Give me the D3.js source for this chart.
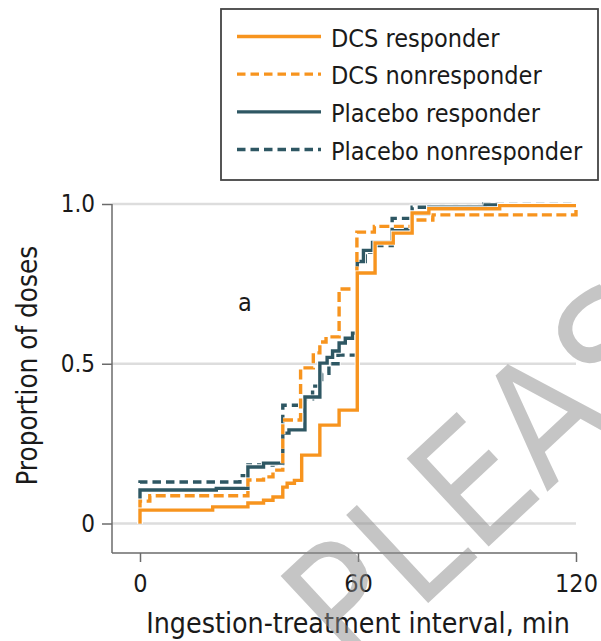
<!DOCTYPE html>
<html>
<head>
<meta charset="utf-8">
<script src="https://cdn.jsdelivr.net/npm/d3@7"></script>
<style>
  html, body { margin: 0; padding: 0; background: #fff; }
  svg { display: block; }
  text { font-family: "DejaVu Sans Condensed", "DejaVu Sans", sans-serif; font-stretch: condensed; fill: #1a1a1a; }
</style>
</head>
<body>
<svg id="chart" width="601" height="641"></svg>
<script>
// Cumulative proportion of doses by ingestion-treatment interval (min)
const seriesNames = ["DCS responder", "DCS nonresponder", "Placebo responder", "Placebo nonresponder"];

const dcsResponderT = [0, 20, 29.7, 34, 36.6, 39.3, 40.5, 42.5, 44.5, 49.5, 54.8, 59.8, 64.7, 69.7, 74.9, 79.5, 99, 120];
const dcsResponderP = [0.042, 0.052, 0.064, 0.073, 0.083, 0.114, 0.126, 0.135, 0.214, 0.308, 0.355, 0.784, 0.878, 0.909, 0.972, 0.985, 0.995, 0.995];

const dcsNonresponderT = [0, 2.7, 29.7, 34, 36.6, 39.3, 44.2, 47.7, 49.5, 51.2, 54.8, 59.7, 64.5, 74.9, 80.6, 120];
const dcsNonresponderP = [0.07, 0.087, 0.136, 0.146, 0.167, 0.324, 0.487, 0.534, 0.568, 0.584, 0.734, 0.912, 0.93, 0.95, 0.966, 0.99];

const placeboResponderT = [0, 21, 29.7, 34, 39.3, 41, 45.4, 49.5, 51.5, 53, 54.8, 56.5, 58.5, 59.8, 61.5, 64, 69.4, 74.9, 79.5, 95, 120];
const placeboResponderP = [0.105, 0.11, 0.177, 0.189, 0.283, 0.293, 0.396, 0.502, 0.52, 0.54, 0.565, 0.58, 0.596, 0.82, 0.855, 0.88, 0.92, 0.97, 0.99, 0.997, 0.997];

const placeboNonresponderT = [0, 27.5, 29.7, 36.6, 39.3, 45.4, 47.5, 50, 52, 54.5, 59.8, 62, 64, 69.4, 74.9, 93, 120];
const placeboNonresponderP = [0.13, 0.15, 0.183, 0.187, 0.37, 0.39, 0.43, 0.47, 0.5, 0.527, 0.82, 0.85, 0.87, 0.955, 0.99, 1.0, 1.0];

const xTicks = [0, 60, 120];
const xTickLabels = ["0", "60", "120"];
const yTicks = [0, 0.5, 1];
const yTickLabels = ["0", "0.5", "1.0"];

const orange = "#f7941e";
const teal = "#2e5763";

const svg = d3.select("#chart");

const x = d3.scaleLinear().domain([0, 120]).range([140, 576]);
const y = d3.scaleLinear().domain([0, 1]).range([523.5, 204]);

const axisLeftX = 112;
const axisBottomY = 553;

// Horizontal gridlines
svg.append("g").selectAll("line")
  .data(yTicks)
  .join("line")
  .attr("x1", axisLeftX).attr("x2", x(120))
  .attr("y1", d => y(d)).attr("y2", d => y(d))
  .attr("stroke", "#dddddd").attr("stroke-width", 2.6);

// Y axis
const yAxis = d3.axisLeft(y)
  .tickValues(yTicks)
  .tickFormat((d, i) => yTickLabels[i])
  .tickSize(10)
  .tickPadding(7);
const gy = svg.append("g").attr("transform", `translate(${axisLeftX},0)`).call(yAxis);
gy.select(".domain").remove();
gy.selectAll(".tick line").attr("stroke", "#6b6b6b").attr("stroke-width", 1.5);
gy.selectAll(".tick text").attr("font-size", 24).style("fill", "#1a1a1a")
  .attr("font-family", null);
svg.append("line")
  .attr("x1", axisLeftX).attr("x2", axisLeftX)
  .attr("y1", y(1)).attr("y2", axisBottomY)
  .attr("stroke", "#6b6b6b").attr("stroke-width", 1.5);

// X axis
const xAxis = d3.axisBottom(x)
  .tickValues(xTicks)
  .tickFormat((d, i) => xTickLabels[i])
  .tickSize(9)
  .tickPadding(12);
const gx = svg.append("g").attr("transform", `translate(0,${axisBottomY})`).call(xAxis);
gx.select(".domain").remove();
gx.selectAll(".tick line").attr("stroke", "#6b6b6b").attr("stroke-width", 1.5);
gx.selectAll(".tick text").attr("font-size", 25).style("fill", "#1a1a1a")
  .attr("font-family", null);
svg.append("line")
  .attr("x1", axisLeftX).attr("x2", x(120) + 1)
  .attr("y1", axisBottomY).attr("y2", axisBottomY)
  .attr("stroke", "#6b6b6b").attr("stroke-width", 1.5);

// Axis titles
svg.append("text")
  .attr("transform", `translate(37,${(y(0) + y(1)) / 2 + 2}) rotate(-90)`)
  .attr("text-anchor", "middle")
  .attr("font-size", 27.6)
  .text("Proportion of doses");
svg.append("text")
  .attr("x", 358).attr("y", 633)
  .attr("text-anchor", "middle")
  .attr("font-size", 28.3)
  .text("Ingestion-treatment interval, min");

// Panel letter
svg.append("text")
  .attr("x", 245).attr("y", 311)
  .attr("text-anchor", "middle")
  .attr("font-size", 25)
  .text("a");

// Step curves
const series = [
  { name: seriesNames[3], t: placeboNonresponderT, p: placeboNonresponderP, color: teal, dash: "8.5,5" },
  { name: seriesNames[2], t: placeboResponderT, p: placeboResponderP, color: teal, dash: null },
  { name: seriesNames[1], t: dcsNonresponderT, p: dcsNonresponderP, color: orange, dash: "10,4.5" },
  { name: seriesNames[0], t: dcsResponderT, p: dcsResponderP, color: orange, dash: null }
];

const line = d3.line()
  .x(d => x(d[0]))
  .y(d => y(d[1]))
  .curve(d3.curveStepAfter);

series.forEach(s => {
  const pts = [[s.t[0], 0]].concat(s.t.map((t, i) => [t, s.p[i]]));
  const g = svg.append("g");
  g.append("path")
    .attr("d", line(pts))
    .attr("fill", "none")
    .attr("stroke", "#fff")
    .attr("stroke-width", 5.2)
    .attr("stroke-dasharray", s.dash);
  g.append("path")
    .attr("d", line(pts))
    .attr("fill", "none")
    .attr("stroke", s.color)
    .attr("stroke-width", 3.4)
    .attr("stroke-dasharray", s.dash);
});

// Legend
const legend = svg.append("g");
legend.append("rect")
  .attr("x", 221).attr("y", 9)
  .attr("width", 377).attr("height", 171)
  .attr("fill", "#fff")
  .attr("stroke", "#444").attr("stroke-width", 1.8);

const legendItems = [
  { name: seriesNames[0], color: orange, dash: null },
  { name: seriesNames[1], color: orange, dash: "8.5,5" },
  { name: seriesNames[2], color: teal, dash: null },
  { name: seriesNames[3], color: teal, dash: "8.5,5" }
];
const legendRow = d3.scaleLinear().domain([0, 3]).range([36.5, 149.5]);
legendItems.forEach((d, i) => {
  legend.append("line")
    .attr("x1", 237).attr("x2", 321)
    .attr("y1", legendRow(i)).attr("y2", legendRow(i))
    .attr("stroke", d.color).attr("stroke-width", 3.4)
    .attr("stroke-dasharray", d.dash);
  legend.append("text")
    .attr("x", 331).attr("y", legendRow(i) + 10)
    .attr("font-size", 25)
    .text(d.name);
});

// Watermark
svg.append("text")
  .attr("transform", "translate(352,674) rotate(-43)")
  .attr("font-family", "Liberation Sans, Arial, sans-serif")
  .style("font-stretch", "normal")
  .attr("font-size", 165)
  .style("fill", "#8c8c8c")
  .attr("fill-opacity", 0.5)
  .text("PLEASE");
</script>
</body>
</html>
